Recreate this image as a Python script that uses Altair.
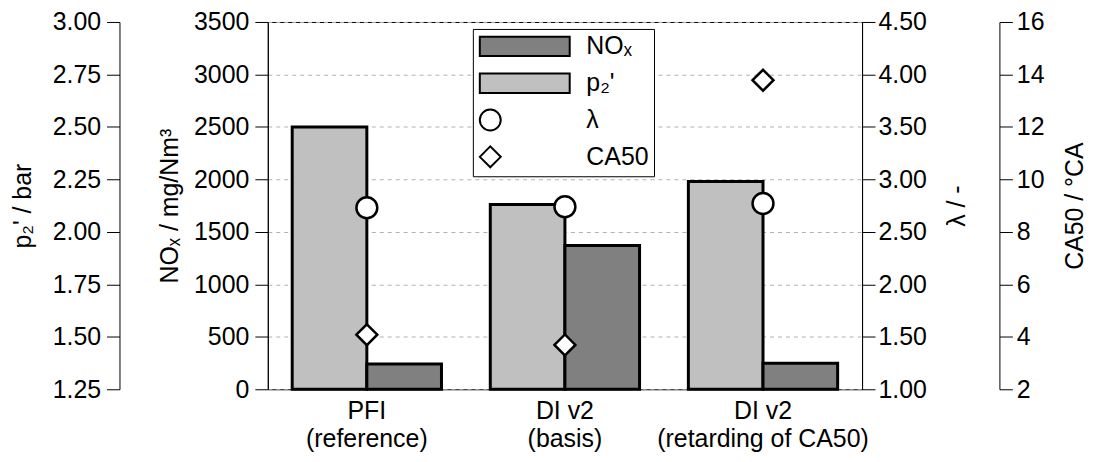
import altair as alt
import pandas as pd

categories = ["PFI\n(reference)", "DI v2\n(basis)", "DI v2\n(retarding of CA50)"]
nox_values = [242, 1371, 249]
p2_values = [2.50, 2.13, 2.24]
lambda_values = [2.73, 2.74, 2.77]
ca50_values = [4.08, 3.69, 13.78]

series_names = ["NOₓ", "p₂'", "λ", "CA50"]
series_fills = ["#808080", "#c0c0c0", "#ffffff", "#ffffff"]
rect_path = "M-1,-0.93L7.6,-0.93L7.6,0.93L-1,0.93Z"
series_shapes = [rect_path, rect_path, "circle", "diamond"]

nox_ticks = [0, 500, 1000, 1500, 2000, 2500, 3000, 3500]
p2_ticks = [1.25, 1.50, 1.75, 2.00, 2.25, 2.50, 2.75, 3.00]
lambda_ticks = [1.0, 1.5, 2.0, 2.5, 3.0, 3.5, 4.0, 4.5]
ca50_ticks = [2, 4, 6, 8, 10, 12, 14, 16]

FONT = "Liberation Sans"
FS = 25

legend = alt.Legend(
    title=None, orient="none", legendX=206, legendY=7, strokeColor="black",
    fillColor="white", padding=5, symbolSize=441, labelOffset=84, rowPadding=8,
    labelFontSize=FS, labelFont=FONT, labelColor="black", symbolStrokeColor="black",
    symbolStrokeWidth=2, labelLimit=200,
)
color_enc = alt.Color("series:N", scale=alt.Scale(domain=series_names, range=series_fills), legend=legend)
shape_enc = alt.Shape("series:N", scale=alt.Scale(domain=series_names, range=series_shapes), legend=legend)

x_enc = alt.X(
    "category:N",
    scale=alt.Scale(domain=categories, paddingInner=0, paddingOuter=0),
    axis=alt.Axis(title=None, domain=False, ticks=False, labelPadding=9, labelFontSize=FS,
                  labelLineHeight=28, labelExpr="split(datum.label, '\\n')", labelAngle=0,
                  labelLimit=400, labelOverlap=False),
)
xoff_enc = alt.XOffset("series:N", scale=alt.Scale(domain=[series_names[1], series_names[0]],
                                                    paddingInner=0, paddingOuter=0.327))

p2_df = pd.DataFrame({"category": categories, "series": series_names[1], "p2": p2_values})
nox_df = pd.DataFrame({"category": categories, "series": series_names[0], "nox": nox_values})
lam_df = pd.DataFrame({"category": categories, "series": series_names[2], "lam": lambda_values})
ca_df = pd.DataFrame({"category": categories, "series": series_names[3], "ca50": ca50_values})

p2_bars = alt.Chart(p2_df).mark_bar(stroke="black", strokeWidth=3).encode(
    x=x_enc, xOffset=xoff_enc,
    y=alt.Y("p2:Q", scale=alt.Scale(domain=[1.25, 3.0], zero=False, nice=False),
            axis=alt.Axis(orient="left", offset=149, values=p2_ticks, format=".2f",
                          title="p₂' / bar", grid=False, labelPadding=6, titlePadding=17)),
    y2=alt.datum(1.25),
    color=color_enc,
)

nox_bars = alt.Chart(nox_df).mark_bar(stroke="black", strokeWidth=3).encode(
    x=x_enc, xOffset=xoff_enc,
    y=alt.Y("nox:Q", scale=alt.Scale(domain=[0, 3500], nice=False),
            axis=alt.Axis(orient="left", offset=0, values=nox_ticks, format="d", title="NOₓ / mg/Nm³",
                          grid=True, gridDash=[4, 4], gridColor="#b0b0b0", gridWidth=1,
                          labelPadding=6, titlePadding=11)),
    color=color_enc,
)

lam_pts = alt.Chart(lam_df).mark_point(filled=True, size=441, stroke="black", strokeWidth=2.5, opacity=1).encode(
    x=x_enc,
    y=alt.Y("lam:Q", scale=alt.Scale(domain=[1.0, 4.5], zero=False, nice=False),
            axis=alt.Axis(orient="right", offset=0, values=lambda_ticks, format=".2f", title="λ / -",
                          grid=False, labelPadding=3, titlePadding=18, titleAngle=270, titleBaseline="top")),
    color=color_enc, shape=shape_enc,
)

ca_pts = alt.Chart(ca_df).mark_point(filled=True, size=441, stroke="black", strokeWidth=2.5, opacity=1).encode(
    x=x_enc,
    y=alt.Y("ca50:Q", scale=alt.Scale(domain=[2, 16], zero=False, nice=False),
            axis=alt.Axis(orient="right", offset=138, values=ca50_ticks, format="d", title="CA50 / °CA",
                          grid=False, labelPadding=4, titlePadding=19, titleAngle=270, titleBaseline="top")),
    color=color_enc, shape=shape_enc,
)

chart = alt.layer(p2_bars, nox_bars, lam_pts, ca_pts).resolve_scale(y="independent").properties(
    width=597, height=369,
    autosize=alt.AutoSizeParams(type="none"),
    padding={"left": 261, "top": 13, "right": 228, "bottom": 70},
).configure(font=FONT).configure_view(stroke="black", strokeWidth=1).configure_axis(
    labelFontSize=FS, titleFontSize=FS, labelColor="black", titleColor="black",
    domainColor="black", tickColor="black", titleFontWeight="normal", tickSize=13,
    labelFont=FONT, titleFont=FONT, domainWidth=1, tickWidth=1,
)

chart.save("out.html", embed_options={"renderer": "svg", "actions": False})
